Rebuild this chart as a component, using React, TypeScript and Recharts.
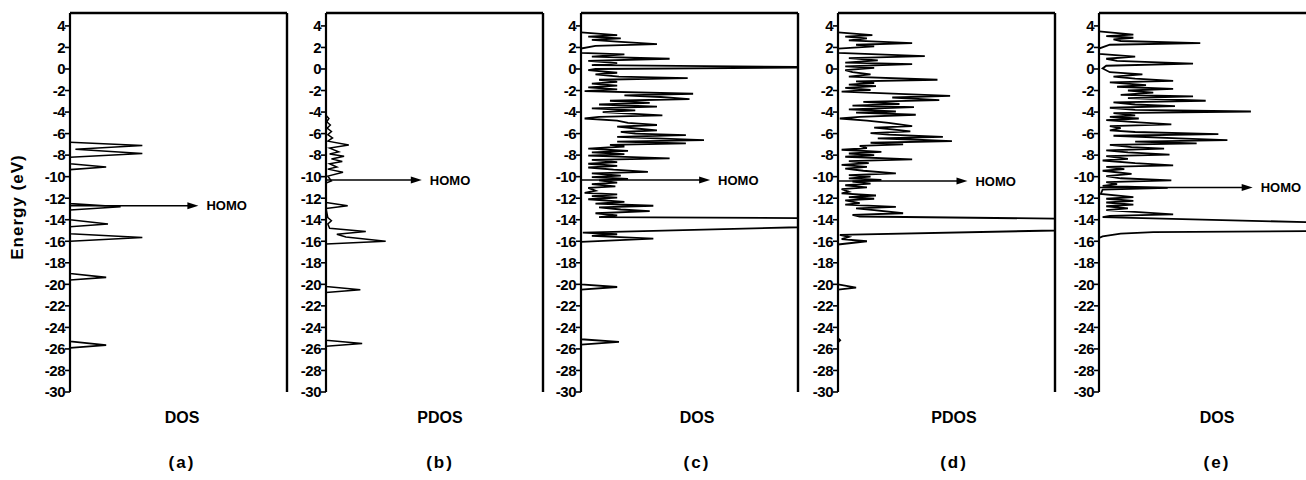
import React from 'react';
import { ScatterChart, Scatter, XAxis, YAxis, ReferenceLine } from 'recharts';

// ---- axis ticks ----
const energyTicks = [4, 2, 0, -2, -4, -6, -8, -10, -12, -14, -16, -18, -20, -22, -24, -26, -28, -30];
const dosTicks = [0, 1, 2, 3, 4, 5, 6];
const energyMin = -30;
const energyMax = 5.2;
const dosMin = 0;
const dosMax = 6;

// ---- panel texts ----
const panelLetters = ['(a)', '(b)', '(c)', '(d)', '(e)'];
const axisTitles = ['DOS', 'PDOS', 'DOS', 'PDOS', 'DOS'];
const homoEnergy = [-12.7, -10.3, -10.3, -10.4, -11.0];
const homoArrowEnd = [3.55, 2.65, 3.57, 3.58, 4.25];

// ---- panel (a) DOS ----
const aEnergy = [-6.8, -7.1, -7.45, -7.85, -8.2, -8.8, -9.1, -9.35, -12.5, -12.8, -13.1, -14.0, -14.4, -14.65, -15.3, -15.65, -16.0, -19.0, -19.35, -19.6, -25.3, -25.65, -25.9];
const aDos = [0, 2.0, 0.15, 2.0, 0, 0, 1.0, 0, 0, 1.4, 0, 0, 1.05, 0, 0, 2.0, 0, 0, 1.0, 0, 0, 1.0, 0];

// ---- panel (b) PDOS ----
const bEnergy = [-4.3, -4.6, -4.9, -5.2, -5.5, -5.8, -6.1, -6.4, -6.7, -7.05, -7.35, -7.7, -7.9, -8.1, -8.35, -8.6, -8.8, -9.1, -9.3, -9.6, -9.95, -10.4, -10.6, -12.4, -12.7, -12.95, -13.8, -14.1, -14.4, -14.8, -15.1, -15.35, -15.6, -16.0, -16.25, -20.2, -20.5, -20.75, -25.2, -25.5, -25.75];
const bDos = [0, 0.08, 0.02, 0.12, 0.03, 0.15, 0.05, 0.18, 0.05, 0.63, 0.1, 0.35, 0.1, 0.5, 0.15, 0.45, 0.1, 0.3, 0.05, 0.47, 0.05, 0.15, 0, 0, 0.6, 0, 0.05, 0.15, 0.05, 0.1, 1.1, 0.3, 0.55, 1.65, 0, 0, 0.95, 0, 0, 1.0, 0];

// ---- panel (c) DOS ----
const cEnergy = [3.4, 3.15, 3.0, 2.85, 2.7, 2.55, 2.3, 2.15, 1.9, 1.5, 1.35, 1.15, 0.95, 0.75, 0.55, 0.35, 0.2, 0.12, 0.0, -0.1, -0.35, -0.5, -0.7, -0.85, -1.0, -1.2, -1.35, -1.55, -1.7, -1.9, -2.05, -2.3, -2.45, -2.6, -2.8, -2.95, -3.15, -3.3, -3.5, -3.65, -3.85, -4.0, -4.3, -4.45, -4.6, -4.8, -5.0, -5.2, -5.35, -5.55, -5.7, -5.85, -6.0, -6.15, -6.3, -6.45, -6.6, -6.75, -6.9, -7.05, -7.2, -7.4, -7.6, -7.75, -7.9, -8.05, -8.3, -8.45, -8.65, -8.8, -9.0, -9.15, -9.35, -9.55, -9.7, -9.9, -10.05, -10.2, -10.35, -10.55, -10.7, -10.9, -11.05, -11.3, -11.5, -11.65, -11.8, -11.95, -12.1, -12.35, -12.5, -12.7, -12.85, -13.05, -13.2, -13.4, -13.6, -13.75, -13.85, -14.7, -15.2, -15.35, -15.5, -15.75, -16.05, -20.0, -20.25, -20.5, -25.1, -25.35, -25.6];
const cDos = [0, 1.0, 0.2, 1.1, 0.3, 1.0, 2.1, 0.4, 0, 0, 1.2, 0.3, 2.45, 0.2, 1.0, 0.3, 6, 6, 0.4, 0.2, 1.0, 0.4, 1.05, 2.95, 0.5, 1.0, 0.3, 1.0, 0.2, 1.0, 0.1, 3.1, 1.2, 2.2, 3.0, 0.8, 1.9, 0.5, 2.1, 0.3, 1.5, 0.6, 2.25, 0.5, 0.1, 1.0, 1.3, 2.1, 1.0, 1.6, 2.1, 1.1, 1.5, 2.9, 1.0, 2.1, 3.4, 1.0, 2.9, 0.8, 1.2, 0.2, 1.3, 0.3, 1.2, 0.2, 2.45, 0.3, 1.0, 0.2, 1.0, 0.2, 0.9, 1.85, 0.3, 1.1, 0.3, 1.3, 0.5, 1.0, 0.3, 0.95, 0.2, 0.4, 0.1, 1.0, 0.3, 1.0, 0.2, 1.2, 0.4, 2.0, 0.5, 1.1, 1.9, 0.4, 1.0, 0.5, 6, 6, 0.05, 1.0, 0.3, 2.0, 0, 0, 1.0, 0, 0, 1.05, 0];

// ---- panel (d) PDOS ----
const dEnergy = [3.4, 3.15, 3.0, 2.85, 2.65, 2.4, 2.25, 2.1, 1.9, 1.5, 1.2, 1.0, 0.8, 0.6, 0.45, 0.25, 0.1, -0.1, -0.3, -0.5, -0.7, -1.0, -1.15, -1.3, -1.45, -1.6, -1.75, -1.95, -2.1, -2.5, -2.65, -2.9, -3.05, -3.25, -3.4, -3.55, -3.75, -3.95, -4.05, -4.25, -4.45, -4.6, -4.8, -5.0, -5.3, -5.45, -5.6, -5.8, -5.95, -6.1, -6.3, -6.45, -6.55, -6.7, -6.85, -7.0, -7.15, -7.35, -7.5, -7.7, -7.85, -8.0, -8.15, -8.4, -8.55, -8.75, -8.9, -9.1, -9.25, -9.45, -9.7, -9.85, -10.0, -10.15, -10.3, -10.45, -10.65, -10.8, -11.0, -11.15, -11.4, -11.55, -11.75, -11.9, -12.05, -12.2, -12.45, -12.6, -12.8, -12.95, -13.1, -13.4, -13.55, -13.7, -13.9, -15.0, -15.4, -15.6, -15.8, -16.0, -16.3, -20.0, -20.3, -20.5, -25.0, -25.2, -25.4];
const dDos = [0, 0.95, 0.2, 0.8, 0.3, 2.05, 0.5, 1.0, 0, 0, 2.4, 0.3, 1.1, 0.2, 2.05, 0.2, 1.0, 0.2, 0.4, 0.9, 0.3, 2.75, 0.5, 1.0, 0.3, 1.05, 0.2, 0.9, 0.1, 3.1, 1.5, 2.8, 0.7, 1.7, 0.4, 2.1, 0.3, 1.6, 0.5, 2.15, 0.6, 0.05, 0.8, 1.4, 2.05, 1.0, 1.5, 2.0, 0.9, 1.4, 2.9, 1.1, 2.0, 3.15, 0.9, 1.8, 0.6, 0.8, 0.1, 1.2, 0.3, 1.0, 0.2, 2.05, 0.3, 0.85, 0.1, 0.8, 0.2, 0.7, 1.6, 0.3, 0.9, 0.3, 1.2, 0.4, 0.9, 0.2, 0.8, 0.1, 0.3, 0.1, 1.05, 0.3, 1.0, 0.2, 0.6, 0.2, 1.6, 0.5, 1.0, 1.8, 0.4, 0.6, 6, 6, 0.05, 0.3, 0.1, 0.8, 0, 0, 0.5, 0, 0, 0.06, 0];

// ---- panel (e) DOS ----
const eEnergy = [3.5, 3.2, 3.05, 2.9, 2.75, 2.6, 2.4, 2.25, 1.9, 1.4, 1.15, 0.95, 0.75, 0.5, 0.3, 0.05, -0.3, -0.5, -0.7, -0.9, -1.1, -1.25, -1.5, -1.65, -1.85, -2.0, -2.2, -2.4, -2.55, -2.7, -2.95, -3.1, -3.3, -3.45, -3.6, -3.8, -3.95, -4.1, -4.3, -4.45, -4.6, -4.75, -4.95, -5.15, -5.3, -5.5, -5.7, -5.85, -6.05, -6.2, -6.45, -6.6, -6.75, -6.9, -7.05, -7.25, -7.4, -7.55, -7.75, -7.95, -8.1, -8.35, -8.5, -8.75, -8.95, -9.1, -9.3, -9.45, -9.75, -9.95, -10.15, -10.35, -10.5, -10.7, -10.85, -11.05, -11.2, -11.6, -11.9, -12.05, -12.25, -12.4, -12.6, -12.75, -12.95, -13.1, -13.3, -13.5, -13.65, -13.75, -14.25, -15.05, -15.15, -15.3, -15.55, -15.7];
const eDos = [0, 0.95, 0.2, 0.95, 0.4, 0.6, 2.8, 0.3, 0, 0, 1.0, 0.2, 0.5, 2.6, 0.2, 0.1, 0.3, 1.2, 0.4, 1.0, 2.05, 0.3, 1.3, 0.5, 2.05, 0.8, 1.5, 0.6, 2.6, 0.8, 2.95, 0.4, 1.0, 2.1, 0.3, 1.0, 4.2, 0.4, 1.0, 0.3, 1.1, 0.2, 1.1, 2.0, 0.3, 0.6, 0.3, 1.0, 3.3, 0.4, 2.2, 3.55, 1.0, 2.7, 0.3, 0.9, 1.8, 0.2, 0.8, 1.95, 0.2, 0.8, 0.1, 1.0, 2.05, 0.2, 0.7, 0.1, 0.9, 0.2, 0.6, 2.0, 0.2, 0.5, 0.1, 1.9, 0.1, 0.05, 0.95, 0.2, 0.95, 0.2, 0.95, 0.2, 0.8, 0.2, 1.1, 2.05, 0.3, 0.1, 6, 6, 1.5, 0.6, 0.1, 0];

const panelEnergies = [aEnergy, bEnergy, cEnergy, dEnergy, eEnergy];
const panelDos = [aDos, bDos, cDos, dDos, eDos];

// ---- layout (px) ----
const plotLefts = [70, 326, 581, 838, 1099];
const labelCenters = [182, 440, 697, 954, 1217];
const curveWidths = [1.6, 1.5, 1.8, 1.8, 1.8];
const PLOT_W = 217;
const AXIS_W = 50;
const FONT = '"Liberation Sans", Arial, Helvetica, sans-serif';

const makeArrow = (text: string) => (props: any) => {
  const { x1, y1, x2 } = props;
  const head = 11;
  return (
    <g>
      <line x1={x1} y1={y1} x2={x2 - head + 1} y2={y1} stroke="#000" strokeWidth={1.5} />
      <polygon points={`${x2},${y1} ${x2 - head},${y1 - 3.5} ${x2 - head},${y1 + 3.5}`} fill="#000" />
      <text x={x2 + 8} y={y1} dy="0.36em" fontFamily={FONT} fontWeight={700} fontSize={13} fill="#000">
        {text}
      </text>
    </g>
  );
};

function Panel({ idx }: { idx: number }) {
  const energies = panelEnergies[idx];
  const dosVals = panelDos[idx];
  const data = energies.map((e, i) => ({ e, dos: dosVals[i] }));
  const left = plotLefts[idx];
  return (
    <>
      <div style={{ position: 'absolute', left: left - AXIS_W, top: 0 }}>
        <ScatterChart width={AXIS_W + PLOT_W + 14} height={480} margin={{ top: 13, right: 14, bottom: 88, left: 0 }}>
          <XAxis
            type="number"
            dataKey="dos"
            domain={[dosMin, dosMax]}
            ticks={dosTicks}
            allowDataOverflow
            height={0}
            mirror
            tickSize={4}
            tick={() => <g />}
            axisLine={{ stroke: '#000', strokeWidth: 2.2 }}
            tickLine={{ stroke: '#000', strokeWidth: 1.3 }}
          />
          <YAxis
            type="number"
            dataKey="e"
            domain={[energyMin, energyMax]}
            ticks={energyTicks}
            interval={0}
            allowDataOverflow
            width={AXIS_W}
            tickSize={5}
            tickMargin={0}
            axisLine={{ stroke: '#000', strokeWidth: 2.2 }}
            tickLine={{ stroke: '#000', strokeWidth: 1.6 }}
            tick={{ fill: '#000', fontSize: 15, fontWeight: 700, fontFamily: FONT, letterSpacing: -0.5 }}
          />
          <ReferenceLine y={energyMax} stroke="#000" strokeWidth={2.4} />
          <ReferenceLine x={dosMax} stroke="#000" strokeWidth={2.4} />
          <Scatter
            data={data}
            line={{ stroke: '#000', strokeWidth: curveWidths[idx] }}
            shape={() => <g />}
            isAnimationActive={false}
          />
          <ReferenceLine
            segment={[
              { x: 0, y: homoEnergy[idx] },
              { x: homoArrowEnd[idx], y: homoEnergy[idx] },
            ]}
            shape={makeArrow('HOMO')}
          />
        </ScatterChart>
      </div>
      <div
        style={{
          position: 'absolute',
          left: labelCenters[idx] - 60,
          width: 120,
          top: 408,
          textAlign: 'center',
          fontFamily: FONT,
          fontWeight: 700,
          fontSize: 16,
          lineHeight: '20px',
          color: '#000',
        }}
      >
        {axisTitles[idx]}
      </div>
      <div
        style={{
          position: 'absolute',
          left: labelCenters[idx] - 60,
          width: 120,
          top: 452,
          textAlign: 'center',
          fontFamily: FONT,
          fontWeight: 700,
          fontSize: 17,
          lineHeight: '22px',
          letterSpacing: 2,
          color: '#000',
        }}
      >
        {panelLetters[idx]}
      </div>
    </>
  );
}

export default function App() {
  return (
    <div
      style={{
        position: 'absolute',
        left: 0,
        top: 0,
        width: 1306,
        height: 480,
        background: '#fff',
        overflow: 'hidden',
      }}
    >
      {[0, 1, 2, 3, 4].map((i) => (
        <Panel key={i} idx={i} />
      ))}
      <div
        style={{
          position: 'absolute',
          left: 18 - 70,
          top: 207 - 12,
          width: 140,
          height: 24,
          lineHeight: '24px',
          textAlign: 'center',
          transform: 'rotate(-90deg)',
          fontFamily: FONT,
          fontWeight: 700,
          fontSize: 17,
          letterSpacing: 1,
          color: '#000',
        }}
      >
        Energy (eV)
      </div>
    </div>
  );
}
